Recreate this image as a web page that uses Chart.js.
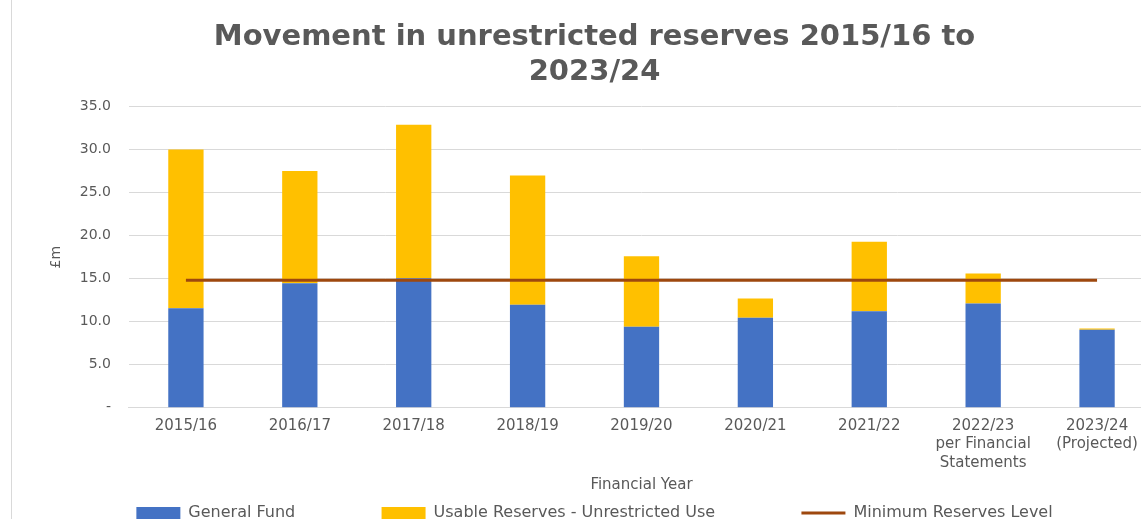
<!DOCTYPE html>
<html>
<head>
<meta charset="utf-8">
<script src="https://cdn.jsdelivr.net/npm/chart.js@4"></script>
<style>
  html, body { margin: 0; padding: 0; background: #fff; overflow: hidden; }
  #frame { position: absolute; left: 11px; top: 0; width: 1px; height: 519px; background: #d9d9d9; }
  #wrap { position: absolute; left: 12px; top: 0; width: 1166px; height: 531px; }
</style>
</head>
<body>
<div id="frame"></div>
<div id="wrap"><canvas id="reservesChart"></canvas></div>
<script>
// Values (£m)
const years = ['2015/16', '2016/17', '2017/18', '2018/19', '2019/20', '2020/21', '2021/22',
  ['2022/23', 'per Financial', 'Statements'], ['2023/24', '(Projected)']];
const generalFund = [11.55, 14.45, 15.05, 11.95, 9.4, 10.45, 11.2, 12.1, 9.05];
const usableReserves = [18.45, 13.05, 17.85, 15.05, 8.2, 2.25, 8.1, 3.5, 0.15];
const minReserves = [14.8, 14.8, 14.8, 14.8, 14.8, 14.8, 14.8, 14.8, 14.8];

const grey = '#595959';
const baseFont = 'DejaVu Sans';

function initChart() {
    const ctx = document.getElementById('reservesChart').getContext('2d');
    new Chart(ctx, {
        type: 'bar',
        data: {
            labels: years,
            datasets: [{
                label: 'General Fund',
                data: generalFund,
                backgroundColor: '#4472C4',
                stack: 'reserves',
                barPercentage: 0.31,
                categoryPercentage: 1,
                order: 2
            }, {
                label: 'Usable Reserves - Unrestricted Use',
                data: usableReserves,
                backgroundColor: '#FFC000',
                stack: 'reserves',
                barPercentage: 0.31,
                categoryPercentage: 1,
                order: 2
            }, {
                type: 'line',
                label: 'Minimum Reserves Level',
                data: minReserves,
                borderColor: '#9E480E',
                backgroundColor: '#9E480E',
                borderWidth: 3,
                pointRadius: 0,
                stack: 'minimum',
                order: 1
            }]
        },
        options: {
            responsive: true,
            maintainAspectRatio: false,
            animation: false,
            layout: { padding: { left: 23, right: 24, top: 0, bottom: 0 } },
            plugins: {
                title: {
                    display: true,
                    text: ['Movement in unrestricted reserves 2015/16 to', '2023/24'],
                    color: grey,
                    font: { family: baseFont, size: 29, weight: 'bold', lineHeight: 1.2 },
                    padding: { top: 20, bottom: 17 }
                },
                legend: {
                    position: 'bottom',
                    labels: {
                        color: grey,
                        font: { family: baseFont, size: 16 },
                        usePointStyle: true,
                        pointStyleWidth: 44,
                        boxHeight: 12,
                        padding: 10,
                        generateLabels(chart) {
                            const items = Chart.defaults.plugins.legend.labels.generateLabels(chart);
                            items.sort((a, b) => a.datasetIndex - b.datasetIndex);
                            items.forEach(item => {
                                const isLine = item.datasetIndex === 2;
                                item.pointStyle = isLine ? 'line' : 'rect';
                                if (!isLine) {
                                    item.lineWidth = 0;
                                    // wide gap between legend entries
                                    item.text += '\u00a0'.repeat(15);
                                }
                            });
                            return items;
                        }
                    }
                },
                tooltip: { enabled: false }
            },
            scales: {
                x: {
                    stacked: true,
                    grid: { display: false, drawTicks: false },
                    border: { color: '#d9d9d9' },
                    ticks: {
                        color: grey,
                        font: { family: baseFont, size: 15, lineHeight: 1.23 },
                        padding: 9,
                        maxRotation: 0,
                        autoSkip: false
                    },
                    title: {
                        display: true,
                        text: 'Financial Year',
                        color: grey,
                        font: { family: baseFont, size: 15 },
                        padding: { top: -5, bottom: 1 }
                    }
                },
                y: {
                    stacked: true,
                    min: 0,
                    max: 35,
                    border: { display: false },
                    grid: { color: '#d9d9d9', drawTicks: false },
                    ticks: {
                        stepSize: 5,
                        color: grey,
                        font: { family: baseFont, size: 14 },
                        padding: 18,
                        callback: value => value === 0 ? '-' : value.toFixed(1)
                    },
                    title: {
                        display: true,
                        text: '£m',
                        color: grey,
                        font: { family: baseFont, size: 14 },
                        padding: { top: 13, bottom: -3 }
                    }
                }
            }
        }
    });
}

initChart();
</script>
</body>
</html>
